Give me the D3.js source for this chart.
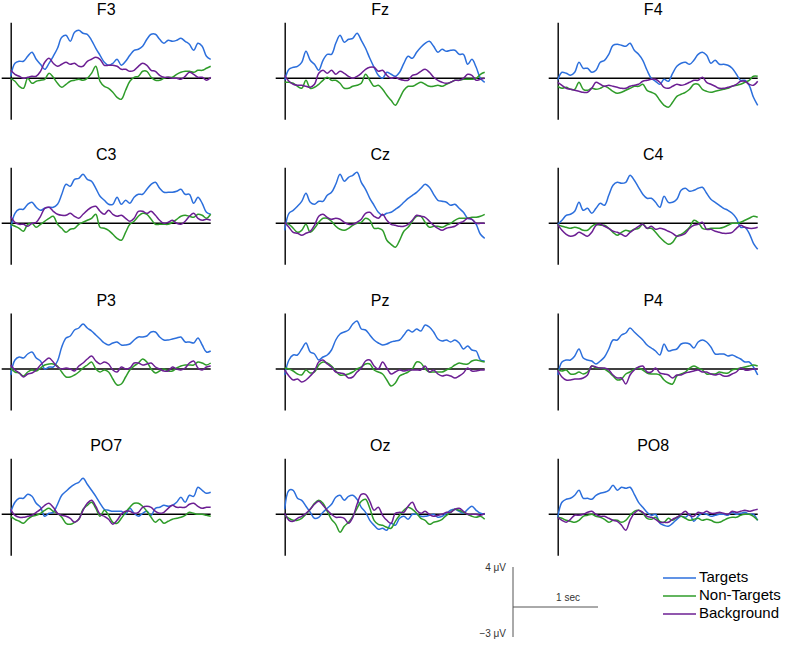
<!DOCTYPE html>
<html>
<head>
<meta charset="utf-8">
<script src="https://cdn.jsdelivr.net/npm/d3@7"></script>
<style>
  html, body { margin: 0; padding: 0; background: #fff; }
  svg { display: block; font-family: "Liberation Sans", Arial, Helvetica, sans-serif; }
</style>
</head>
<body>
<svg id="chart" width="791" height="645"></svg>
<script>
// ---------- data ----------
const channels = ["F3","Fz","F4","C3","Cz","C4","P3","Pz","P4","PO7","Oz","PO8"];
const seriesNames = ["Targets","Non-Targets","Background"];
const seriesColors = ["#2c6fdc","#2f9c2a","#6c1f93"];
// time (s) of each sample
const timePoints = [0,0.05,0.1,0.15,0.2,0.25,0.3,0.35,0.4,0.45,0.5,0.55,0.6,0.65,0.7,0.75,0.8,0.85,0.9,0.95,
  1.0,1.05,1.1,1.15,1.2,1.25,1.3,1.35,1.4,1.45,1.5,1.55,1.6,1.65,1.7,1.75,1.8,1.85,1.9,1.95,
  2.0,2.05,2.1,2.15,2.2,2.25,2.3,2.35];

const F3_T = [0.2,1.5,1.7,1.7,2.2,2.6,1.9,1.4,0.9,1.5,2.2,3.0,4.1,4.3,3.7,4.6,4.8,4.5,4.4,3.8,3.0,2.3,1.6,1.3,1.5,1.9,1.3,1.7,2.3,2.8,2.9,3.2,3.9,4.4,4.4,3.9,3.5,3.8,3.7,3.8,4.0,3.7,3.4,2.8,3.5,3.2,2.2,1.9];
const F3_N = [0,-0.3,-0.8,-1.0,0,-0.5,-0.3,-0.2,-0.1,0.5,0.1,-0.5,-0.9,-0.6,-0.3,-0.2,-0.1,-0.2,0,0.5,1.2,-0.3,-0.8,-1.0,-1.4,-1.9,-2.1,-1.2,-0.3,0.1,0.2,0.7,0.7,0.1,-0.2,-0.2,0,0.1,0.1,0.4,0.6,0.7,0.7,0.6,0.8,0.8,1.0,1.2];
const F3_B = [0.8,0.4,0.2,0,0.1,0.2,0.2,0.7,1.6,2.0,1.5,1.2,1.4,1.6,1.4,1.5,1.2,1.2,1.7,1.9,2.1,1.9,1.3,1.3,1.3,1.2,0.9,0.9,0.7,0.8,1.2,1.5,1.3,0.8,0.7,0.3,0.1,0.1,0,0,-0.1,0.2,0.6,0.4,0.1,0.1,-0.2,0.1];

const Fz_T = [-0.2,0.9,1.1,1.2,1.6,2.7,1.8,1.4,0.8,1.8,2.4,2.4,3.5,4.3,3.6,3.9,4.0,4.5,3.8,3.0,2.0,1.1,0.3,0,0.6,0.4,0.2,0.6,1.5,2.2,2.0,2.6,3.1,3.5,3.7,3.2,2.6,2.9,2.7,2.8,2.8,2.4,2.4,1.4,1.9,1.1,0,-0.4];
const Fz_N = [-0.4,-0.4,-0.5,-0.8,-1.0,-0.2,-1.0,-0.9,-0.6,-0.2,0.1,-0.2,-0.2,-0.5,-1.0,-1.0,-0.8,-0.7,-0.5,0.4,-0.2,-0.8,-0.7,-1.1,-1.7,-2.2,-2.7,-2.0,-1.2,-0.8,-0.8,-0.6,-0.4,-0.6,-0.8,-0.8,-0.7,-0.8,-0.6,-0.4,-0.2,-0.2,-0.1,-0.1,-0.1,0,0.4,0.6];
const Fz_B = [0.3,-0.3,-0.6,-0.7,-0.7,-0.8,-0.9,-0.6,0.5,0.8,0.5,0.8,0.4,0.7,0.5,0.2,0,0.2,0.5,0.9,1.1,1.1,0.7,0.8,0.3,0,0.1,-0.1,-0.2,-0.2,0.3,0.4,0.7,0.9,0.6,0.1,-0.2,-0.4,-0.5,-0.4,-0.2,-0.2,0,0.4,0.3,-0.2,-0.1,0];

const F4_T = [-0.2,0.6,0.5,0.3,0.6,1.6,1.0,1.0,0.6,0.8,1.6,1.8,2.4,3.3,3.4,3.3,3.2,3.5,2.8,2.4,1.8,0.8,0,-0.3,-0.6,-0.1,-0.3,0.5,1.2,1.5,1.6,1.4,1.8,2.4,2.6,2.3,1.5,1.8,1.4,1.4,1.3,1.0,0.4,-0.2,-0.2,-0.7,-1.9,-2.7];
const F4_N = [-0.8,-1.0,-0.9,-1.1,-1.1,-0.4,-1.1,-1.2,-1.0,-1.1,-1.0,-0.8,-1.0,-1.3,-1.5,-1.4,-1.2,-1.0,-0.8,-0.8,-0.6,-1.2,-1.4,-1.6,-2.2,-2.7,-2.9,-2.4,-1.8,-1.6,-1.4,-1.1,-0.6,-0.6,-1.1,-1.3,-1.4,-1.3,-1.2,-1.1,-1.0,-0.8,-0.7,-0.6,-0.4,-0.2,0.2,0.2];
const F4_B = [-0.4,-0.7,-1.0,-1.1,-1.2,-1.3,-1.4,-1.4,-1.0,-0.4,-0.6,-0.8,-0.7,-0.8,-0.9,-1.0,-1.0,-0.8,-0.7,-0.6,-0.3,-0.2,-0.1,-0.1,-0.4,-0.9,-1.0,-0.8,-0.6,-0.7,-0.6,-0.4,-0.2,-0.2,0.1,-0.4,-0.6,-0.8,-1.0,-1.0,-0.9,-0.8,-0.6,-0.3,-0.3,-0.6,-0.7,-0.3];

const C3_T = [-0.5,1.0,1.4,1.4,1.9,2.1,1.6,1.3,1.5,1.6,1.6,1.9,2.9,3.9,3.7,4.4,4.5,4.9,4.4,4.2,3.5,2.7,2.3,1.9,1.9,2.6,1.9,2.3,2.0,2.6,2.9,2.9,3.4,3.9,4.1,3.5,3.1,3.1,3.1,3.2,3.4,2.9,2.9,2.0,2.6,2.0,1.1,0.9];
const C3_N = [-0.1,-0.3,-0.5,-0.8,-0.1,0,-0.4,-0.1,0.2,0.5,0.7,-0.1,-0.5,-0.9,-0.6,-0.5,-0.1,0.1,0.3,0.5,0.9,-0.4,-0.5,-0.7,-1.1,-1.5,-1.7,-0.9,-0.1,0.2,0.7,1.0,0.9,0.4,-0.1,-0.1,-0.1,-0.1,0.1,0.4,0.7,0.8,0.7,0.6,0.9,0.8,0.5,0.9];
const C3_B = [0.7,0.1,-0.1,-0.1,-0.3,0,0.1,0.7,1.5,1.6,1.2,0.9,0.8,0.8,1.0,0.7,0.5,0.9,1.3,1.6,1.7,1.2,0.9,1.3,0.9,0.7,0.8,0.5,0.2,0.5,1.2,1.2,1.0,1.2,0.8,0.3,0,0.1,0.3,0,-0.1,0.2,0.7,1.0,0.5,0.3,0.4,0.3];

const Cz_T = [-0.7,1.0,1.3,1.7,2.2,3.0,2.1,1.9,2.2,2.2,2.8,3.1,3.9,4.9,4.2,4.6,4.8,5.1,4.1,3.4,2.5,1.8,1.1,0.8,1.0,1.1,1.4,1.7,2.1,2.5,2.8,3.1,3.5,3.9,3.6,2.9,2.3,2.2,2.1,1.8,1.9,1.5,1.1,0.5,0.4,-0.1,-1.1,-1.5];
const Cz_N = [0,-0.1,-0.5,-0.9,-0.7,-0.1,-0.9,-0.5,0.1,0.5,0.5,0.2,-0.3,-0.6,-0.7,-0.5,-0.2,0,0.1,0.5,0.3,-0.5,-0.5,-0.7,-1.7,-2.1,-2.4,-1.7,-0.8,-0.4,0.2,0.7,0.7,0.1,-0.4,-0.3,-0.3,-0.4,-0.2,0,0.3,0.5,0.5,0.5,0.6,0.6,0.7,0.9];
const Cz_B = [0.1,-0.4,-0.9,-1.0,-1.2,-1.0,-0.8,-0.2,0.7,0.9,0.6,0.4,0.5,0.4,0.1,-0.1,-0.1,0.1,0.4,1.0,1.1,0.7,0.5,0.9,0.3,-0.1,-0.2,-0.3,-0.3,-0.1,0.3,0.8,0.7,0.6,0.2,-0.2,-0.5,-0.7,-0.5,-0.4,-0.3,0,0.2,0.5,0.4,0,0,0];

const C4_T = [-0.1,0.3,0.8,0.9,1.2,2.1,1.3,1.5,1.0,1.5,2.0,1.8,2.8,3.8,4.1,4.0,4.1,4.8,4.3,3.6,2.9,2.5,2.5,2.1,1.6,2.7,2.1,2.1,2.4,3.3,3.5,3.2,3.3,3.5,3.6,3.0,2.4,2.1,1.8,1.5,1.3,1.0,0.5,-0.4,-0.4,-1.0,-2.0,-2.6];
const C4_N = [-0.1,-0.3,-0.4,-0.5,-0.4,-0.5,-0.7,-0.7,-0.3,-0.1,-0.2,-0.2,-0.5,-0.9,-1.2,-0.9,-0.7,-0.8,-0.6,-0.5,-0.1,-0.5,-0.5,-0.9,-1.4,-1.8,-2.1,-1.9,-1.3,-1.1,-0.8,-0.4,0.3,0.1,-0.5,-0.6,-0.5,-0.5,-0.5,-0.4,-0.2,0,0,0.1,0.3,0.5,0.7,0.6];
const C4_B = [-0.1,-0.7,-1.1,-1.3,-1.2,-0.9,-1.1,-1.3,-0.9,-0.2,-0.1,-0.3,-0.5,-0.8,-0.9,-1.1,-1.3,-0.9,-0.6,-0.3,-0.1,-0.5,-0.3,-0.6,-0.5,-0.6,-0.8,-1.0,-1.3,-1.2,-1.0,-0.5,-0.2,-0.1,0.1,-0.6,-0.6,-0.8,-0.9,-1.0,-1.0,-0.9,-0.5,-0.2,-0.4,-0.5,-0.5,-0.4];

const P3_T = [-0.6,0.9,1.2,1.1,1.5,1.7,1.1,0.8,0,0.2,0.2,0.8,2.2,3.1,3.3,3.9,4.1,4.5,4.1,3.8,3.4,3.0,2.6,2.4,2.6,2.7,2.4,2.4,2.5,2.9,3.2,3.2,3.3,3.7,3.7,3.2,2.9,2.9,3.0,3.1,3.2,2.7,2.7,2.6,3.1,2.4,1.7,1.8];
const P3_N = [0.1,-0.3,-0.4,-0.7,-0.3,-0.1,-0.2,0.1,0.4,0.5,0.5,0.3,-0.3,-0.8,-0.8,-0.6,-0.3,0.1,0.4,0.7,0,-0.3,-0.1,-0.3,-1.0,-1.6,-1.5,-0.8,-0.1,0.3,0.6,1.0,0.7,0,-0.4,-0.2,0,-0.2,-0.2,0.1,0.3,0.4,0.4,0.4,0.7,0.6,0.4,0.6];
const P3_B = [0.4,-0.1,-0.4,-0.8,-0.5,-0.4,-0.1,0.4,0.8,1.1,0.7,0.2,0,0.1,0,-0.2,0.3,0.6,1.0,1.3,0.8,0.5,0.7,0.5,-0.1,-0.3,0.2,0,0.1,0.6,0.6,0.4,0.5,0.6,0.2,0,-0.2,-0.2,0.2,0,-0.1,0.1,0.6,0.8,0.1,-0.1,0.2,0.3];

const Pz_T = [-0.6,0.9,1.4,1.4,2.0,2.6,1.7,1.5,0.9,1.2,1.4,1.9,2.9,3.5,3.7,3.9,4.5,4.8,4.0,3.9,3.4,2.9,2.6,2.4,2.5,2.7,2.8,2.9,3.4,3.9,3.7,4.0,3.8,4.4,4.2,3.7,3.0,2.8,2.9,2.7,2.9,2.6,2.0,2.3,1.9,1.8,0.9,0.8];
const Pz_N = [0.1,0,-0.2,-0.5,-0.6,-0.1,-0.4,-0.3,0.4,0.7,0.6,0.3,-0.2,-0.6,-0.6,-0.5,-0.3,0,0.2,0.5,0.5,-0.1,-0.3,-0.5,-1.1,-1.7,-1.4,-0.7,-0.5,-0.3,0,0.7,0.6,0,-0.3,-0.3,-0.3,-0.3,-0.1,0.1,0.4,0.6,0.5,0.5,0.8,0.9,0.8,0.7];
const Pz_B = [-0.1,-0.7,-1.1,-1.0,-1.3,-1.1,-0.7,-0.2,0.7,0.9,0.5,0.2,-0.3,-0.4,-0.5,-0.9,-0.8,-0.3,0.1,0.8,0.9,0.3,0,0.7,0.1,-0.5,-0.3,-0.1,-0.2,-0.1,-0.1,-0.1,-0.1,0.3,-0.3,-0.1,-0.5,-0.7,-0.6,-0.7,-0.9,-0.7,-0.4,0.1,-0.2,-0.2,-0.1,-0.1];

const P4_T = [-0.6,0.7,0.9,0.9,1.3,2.0,1.1,0.9,0.8,0.5,0.8,1.2,2.0,2.9,2.9,3.4,3.6,4.1,3.7,3.3,2.9,2.4,2.1,1.8,1.4,2.5,1.8,1.9,2.0,2.5,2.6,2.5,2.1,2.7,2.9,2.7,2.2,1.5,1.5,1.5,1.3,1.4,1.2,1.0,0.7,0.7,0.2,-0.6];
const P4_N = [-0.1,-0.2,-0.1,-0.5,-0.5,-0.3,-0.5,-0.3,0.3,0.1,0.1,0,-0.3,-0.7,-1.1,-1.0,-0.5,-0.3,0,0.1,-0.1,-0.4,-0.5,-0.5,-0.6,-1.1,-1.4,-1.5,-0.7,-0.5,-0.3,0.1,0.3,0.1,-0.1,-0.5,-0.5,-0.5,-0.3,-0.4,-0.4,-0.1,0,0.1,0.2,0.3,0.4,0.3];
const P4_B = [-0.1,-0.8,-1.1,-1.1,-1.0,-1.0,-0.9,-0.6,0.3,0.2,0.1,0.1,-0.1,-0.6,-0.9,-0.9,-1.5,-0.6,-0.1,0.2,0.3,-0.3,-0.3,0.1,-0.4,-0.5,-0.6,-0.9,-0.6,-0.6,-0.4,-0.3,-0.2,-0.1,-0.3,-0.3,-0.5,-0.6,-0.5,-0.7,-0.7,-0.5,-0.3,0.1,-0.1,-0.1,0,0];

const PO7_T = [0.2,1.2,1.6,1.6,2.0,1.8,1.1,0.7,-0.2,0.1,0.2,1.0,1.9,2.3,2.7,3.0,3.2,3.6,3.0,2.4,1.8,1.1,0.5,0.4,0.3,0.3,0.3,0,0.6,0.1,-0.2,0.1,0.3,-0.1,0.6,0.7,0.9,0.8,0.9,1.2,1.7,1.2,1.9,1.8,2.7,2.4,2.1,2.2];
const PO7_N = [-0.2,-0.5,-0.7,-0.9,-0.5,-0.2,-0.1,0.1,0.4,0.6,0.3,0.1,-0.3,-0.9,-1.0,-0.8,-0.5,0.5,0.9,1.2,0.6,-0.2,0.4,-0.1,-0.8,-0.9,-0.4,0.2,0.7,1.1,1.1,0.8,0.3,-0.3,-0.8,-0.5,-0.9,-0.7,-0.5,-0.4,-0.3,-0.1,0.2,0.1,0,0,-0.1,-0.2];
const PO7_B = [0.5,-0.1,-0.3,-0.3,-0.2,-0.1,0.2,0.5,0.9,1.1,0.7,0.1,-0.1,-0.2,-0.4,-0.8,-0.5,0.4,1.1,1.4,0.8,0,-0.2,-0.5,-1.0,-0.6,0,0.3,0.3,0.1,0.2,0.7,0.8,0.7,0.3,0.1,0.2,0.6,0.9,0.7,0.7,0.7,1.0,1.1,0.8,0.6,0.7,0.7];

const Oz_T = [0.5,2.4,2.4,1.6,1.4,0.8,0.2,-0.4,-0.3,0.2,0.6,1.0,1.7,1.9,1.4,1.8,1.9,1.5,0.7,0.2,-0.6,-1.1,-1.5,-1.4,-1.6,-0.9,-1.1,-0.4,-0.2,-0.5,0,0,-0.2,-0.2,-0.1,0,-0.3,-0.2,0.1,0.4,0.5,0.3,0.1,0.5,0.8,0.4,0.1,0];
const Oz_N = [-0.1,-0.4,-0.6,-0.6,-0.4,0,0.5,1.1,1.4,1.1,0.3,-0.5,-1.0,-1.8,-1.2,-0.8,-0.2,0.6,1.3,1.5,0.6,-0.6,-1.0,-1.1,-1.3,-1.4,-0.7,-0.1,0.4,0.7,0.5,0.1,-0.4,-0.6,-1.0,-0.8,-0.7,-0.5,-0.1,0.2,0.5,0.4,0.2,0,-0.2,-0.3,-0.2,-0.5];
const Oz_B = [0.1,-0.6,-0.7,-0.4,-0.2,0.1,0.5,1.0,1.3,0.9,0.4,0,-0.3,-0.3,-0.4,-0.9,-0.3,1.0,2.0,2.0,1.3,0.4,0.7,-0.1,-0.6,-0.9,0.1,0.2,0.2,0.8,1.2,0.4,0.1,0.3,0,-0.2,-0.1,0,0.2,0.2,0.5,0.6,0.3,0,0,0,-0.1,0.1];

const PO8_T = [-0.3,1.2,1.5,1.6,1.9,2.4,1.6,1.6,1.5,1.9,2.1,2.2,2.4,2.9,2.4,2.7,2.6,2.7,2.0,1.2,0.7,0.2,-0.1,0,-0.9,-1.1,-1.2,-0.9,-0.5,-0.2,-0.3,0,-0.7,-0.2,0.1,0,-0.2,-0.1,0,0,-0.1,0.2,0,0.1,0.2,0,0,-0.6];
const PO8_N = [-0.3,-0.4,-0.6,-0.7,-0.8,-0.6,-0.2,-0.1,0,-0.2,-0.3,-0.5,-0.8,-0.6,-0.6,-0.8,-0.6,-0.1,0.3,0.4,0.1,-0.4,-0.5,-0.3,-0.7,-0.8,-0.4,-0.6,-0.3,-0.2,-0.4,-0.6,-0.5,-0.4,-0.6,-0.5,-0.6,-0.8,-0.8,-0.6,-0.4,-0.3,-0.3,-0.1,0,0,-0.2,-0.6];
const PO8_B = [-0.3,-0.6,-0.8,-0.5,-0.1,-0.1,0,0.2,0.3,0,-0.2,-0.2,-0.4,-0.6,-0.7,-1.1,-1.6,-0.6,0.1,0.4,0.2,-0.2,-0.3,-0.5,-0.8,-0.8,-0.8,-0.5,-0.3,0,0.3,-0.1,-0.2,0.2,0.1,0.3,0.1,0.1,0.2,0.1,0,0.3,0.2,0.3,0.4,0.3,0.4,0.5];

// scale bar labels
const scaleBarLabels = { top: "4 μV", bottom: "−3 μV", time: "1 sec" };
const scaleBarValues = { top: 4, bottom: -3, time: 1 };

// lookup table built from the arrays above
const table = {
  F3: [F3_T, F3_N, F3_B], Fz: [Fz_T, Fz_N, Fz_B], F4: [F4_T, F4_N, F4_B],
  C3: [C3_T, C3_N, C3_B], Cz: [Cz_T, Cz_N, Cz_B], C4: [C4_T, C4_N, C4_B],
  P3: [P3_T, P3_N, P3_B], Pz: [Pz_T, Pz_N, Pz_B], P4: [P4_T, P4_N, P4_B],
  PO7: [PO7_T, PO7_N, PO7_B], Oz: [Oz_T, Oz_N, Oz_B], PO8: [PO8_T, PO8_N, PO8_B]
};

// ---------- layout ----------
const svg = d3.select("#chart");
const colX = [10.7, 284.7, 557.7];
const rowTop = [22.3, 167.3, 313, 458.3];
const plotW = 200;
const yTopVal = 5.6, yBotVal = -4.1, pxPerUV = 10;
const plotH = (yTopVal - yBotVal) * pxPerUV;

const x = d3.scaleLinear().domain([0, 2.35]).range([0, plotW]);
const y = d3.scaleLinear().domain([yBotVal, yTopVal]).range([plotH, 0]);

const line = d3.line()
  .x((d, i) => x(timePoints[i]))
  .y(d => y(d))
  .curve(d3.curveCatmullRom.alpha(0.5));

channels.forEach((ch, k) => {
  const col = k % 3, row = Math.floor(k / 3);
  const g = svg.append("g").attr("transform", `translate(${colX[col]},${rowTop[row]})`);

  // vertical axis (no ticks)
  const yAxis = g.append("g").call(d3.axisLeft(y).tickValues([]).tickSizeOuter(0));
  yAxis.select(".domain").attr("stroke", "#000").attr("stroke-width", 1.4);

  // zero line
  g.append("line")
    .attr("x1", -9).attr("x2", x(2.35))
    .attr("y1", y(0)).attr("y2", y(0))
    .attr("stroke", "#000").attr("stroke-width", 1.4);

  // series
  table[ch].forEach((vals, s) => {
    g.append("path")
      .datum(vals)
      .attr("d", line)
      .attr("fill", "none")
      .attr("stroke", seriesColors[s])
      .attr("stroke-width", 1.5)
      .attr("stroke-linejoin", "round");
  });

  // title
  g.append("text")
    .attr("x", (x(2.35) - 9) / 2)
    .attr("y", y(0) - 63)
    .attr("text-anchor", "middle")
    .attr("font-size", 16)
    .attr("fill", "#000")
    .text(ch);
});

// ---------- scale bar ----------
const sb = svg.append("g").attr("transform", "translate(513,607)");
const sx = d3.scaleLinear().domain([0, 1]).range([0, 85]);
const sy = d3.scaleLinear().domain([0, 1]).range([0, -pxPerUV]);
sb.append("line").attr("x1", 0).attr("x2", 0)
  .attr("y1", sy(scaleBarValues.top)).attr("y2", sy(scaleBarValues.bottom))
  .attr("stroke", "#555").attr("stroke-width", 1);
sb.append("line").attr("x1", 0).attr("x2", sx(scaleBarValues.time))
  .attr("y1", 0).attr("y2", 0)
  .attr("stroke", "#555").attr("stroke-width", 1);
sb.append("text").attr("x", -7).attr("y", sy(scaleBarValues.top) + 1)
  .attr("text-anchor", "end").attr("dominant-baseline", "middle")
  .attr("font-size", 10).attr("fill", "#333").text(scaleBarLabels.top);
sb.append("text").attr("x", -7).attr("y", sy(scaleBarValues.bottom) - 3)
  .attr("text-anchor", "end").attr("dominant-baseline", "middle")
  .attr("font-size", 10).attr("fill", "#333").text(scaleBarLabels.bottom);
sb.append("text").attr("x", sx(scaleBarValues.time) - 18).attr("y", -6)
  .attr("text-anchor", "end")
  .attr("font-size", 10).attr("fill", "#333").text(scaleBarLabels.time);

// ---------- legend ----------
const lg = svg.append("g").attr("transform", "translate(663,578)");
seriesNames.forEach((name, i) => {
  const row = lg.append("g").attr("transform", `translate(0,${i * 18})`);
  row.append("line").attr("x1", 0).attr("x2", 33).attr("y1", 0).attr("y2", 0)
    .attr("stroke", seriesColors[i]).attr("stroke-width", 1.5);
  row.append("text").attr("x", 36).attr("y", 0)
    .attr("dominant-baseline", "middle")
    .attr("font-size", 15).attr("fill", "#000").text(name);
});
</script>
</body>
</html>
